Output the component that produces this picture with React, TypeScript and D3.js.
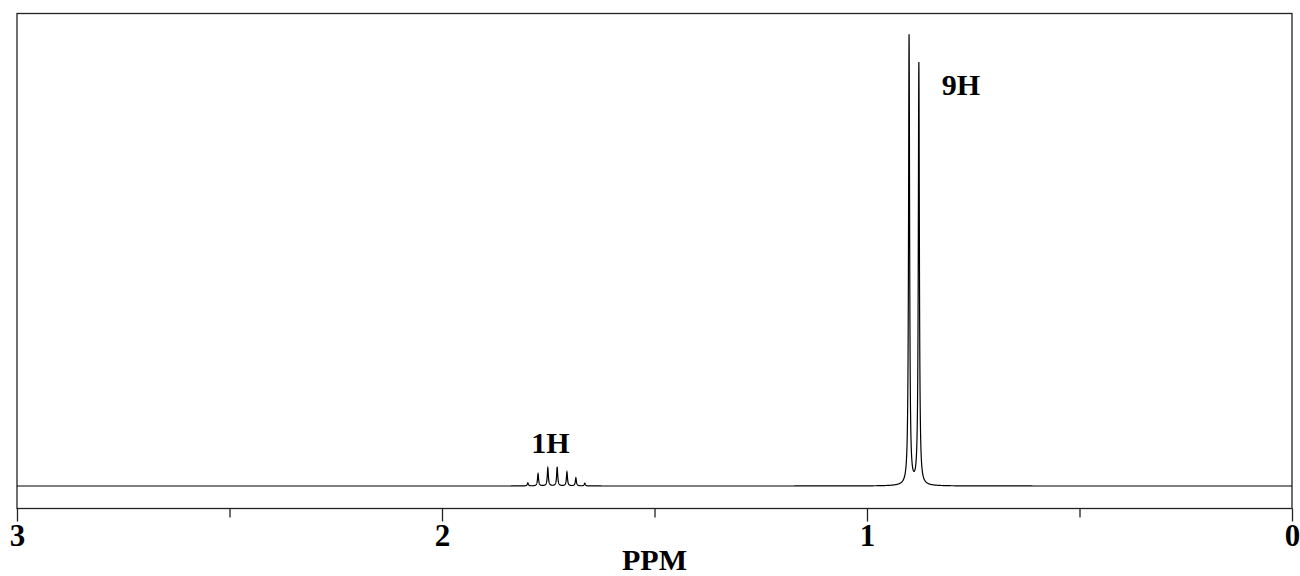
import React, { useEffect, useRef } from 'react';
import * as d3 from 'd3';

// peak positions (ppm) and heights (relative, tallest = 100)
const doubletPpm = [0.901, 0.878];
const doubletHeight = [100, 93.8];
const multipletPpm = [1.798, 1.774, 1.751, 1.729, 1.706, 1.685, 1.664];
const multipletHeight = [0.7, 2.7, 4.0, 4.2, 3.1, 1.8, 0.6];

const majorTicks = [3, 2, 1, 0];
const minorTicks = [2.5, 1.5, 0.5];
const axisTitle = 'PPM';
const peakLabels = [
  { text: '1H', ppm: 1.745 },
  { text: '9H', ppm: 0.779 },
];

const halfWidth = 0.0015; // lorentzian half width, ppm

const Spectrum = () => {
  const svgRef = useRef<SVGSVGElement>(null);

  useEffect(() => {
    const width = 1300;
    const height = 576;
    const left = 17, right = 1292, top = 13.5, bottom = 508.5;

    svgRef.current!.innerHTML = '';
    const svg = d3.select(svgRef.current)
      .attr('width', width)
      .attr('height', height);

    const x = d3.scaleLinear().domain([3, 0]).range([left, right]);
    const y = d3.scaleLinear().domain([0, 100]).range([486, 36]);

    const peaks = [
      ...doubletPpm.map((p, i) => ({ ppm: p, h: doubletHeight[i] })),
      ...multipletPpm.map((p, i) => ({ ppm: p, h: multipletHeight[i] })),
    ];

    const grid = d3.range(0, 3.00001, 0.0002).concat(peaks.map(p => p.ppm)).sort(d3.ascending);
    const spectrum = grid.map(ppm => ({
      ppm,
      v: d3.sum(peaks, p => p.h / (1 + ((ppm - p.ppm) / halfWidth) ** 2)),
    }));

    // frame
    svg.append('rect')
      .attr('x', left)
      .attr('y', top)
      .attr('width', right - left)
      .attr('height', bottom - top)
      .attr('fill', 'none')
      .attr('stroke', '#222')
      .attr('stroke-width', 1.3);

    const line = d3.line<{ ppm: number; v: number }>()
      .x(d => x(d.ppm))
      .y(d => y(d.v));

    svg.append('path')
      .datum(spectrum)
      .attr('d', line)
      .attr('fill', 'none')
      .attr('stroke', '#000')
      .attr('stroke-width', 1.2);

    const font = 'Liberation Serif, Times New Roman, Times, serif';

    const axis = svg.append('g')
      .attr('transform', `translate(0, ${bottom})`)
      .call(d3.axisBottom(x).tickValues(majorTicks).tickSize(13).tickPadding(2).tickFormat(d3.format('d')));
    axis.select('.domain').remove();
    axis.selectAll('line').attr('stroke', '#222').attr('stroke-width', 1.3);
    axis.selectAll('text')
      .attr('font-family', font)
      .attr('font-weight', 'bold')
      .attr('font-size', 31)
      .attr('fill', '#000');

    const minor = svg.append('g')
      .attr('transform', `translate(0, ${bottom})`)
      .call(d3.axisBottom(x).tickValues(minorTicks).tickSize(9).tickFormat(() => ''));
    minor.select('.domain').remove();
    minor.selectAll('line').attr('stroke', '#222').attr('stroke-width', 1.3);

    svg.append('text')
      .attr('x', x(1.5))
      .attr('y', 570)
      .attr('text-anchor', 'middle')
      .attr('font-family', font)
      .attr('font-weight', 'bold')
      .attr('font-size', 30)
      .text(axisTitle);

    svg.selectAll('.peak-label')
      .data(peakLabels)
      .enter().append('text')
      .attr('class', 'peak-label')
      .attr('x', d => x(d.ppm))
      .attr('y', (d, i) => (i === 0 ? 453 : 95))
      .attr('text-anchor', 'middle')
      .attr('font-family', font)
      .attr('font-weight', 'bold')
      .attr('font-size', 30)
      .text(d => d.text);
  }, []);

  return <svg ref={svgRef} style={{ position: 'absolute', left: 0, top: 0 }}></svg>;
};

export default function App() {
  return <Spectrum />;
}
